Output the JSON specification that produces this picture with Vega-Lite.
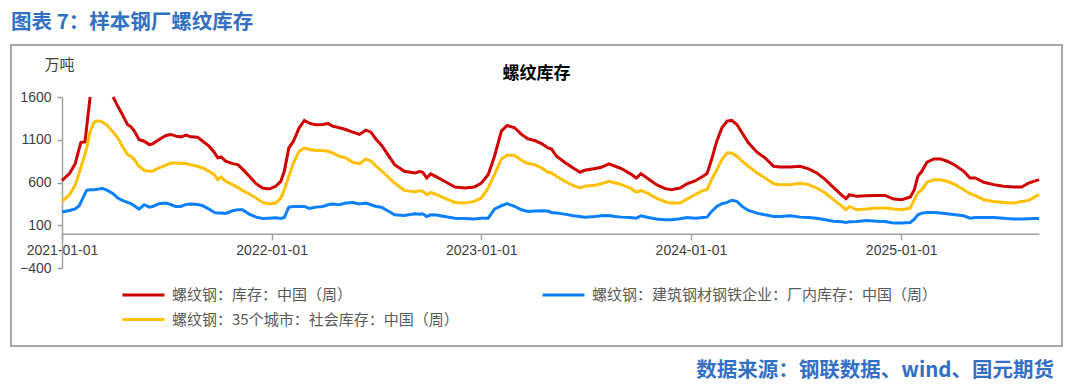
{
  "$schema": "https://vega.github.io/schema/vega-lite/v6.json",
  "background": "white",
  "padding": {"left": 10, "top": 12, "right": 10, "bottom": 5},
  "title": {"text": "图表 7：样本钢厂螺纹库存", "anchor": "start", "frame": "group", "font": "Noto Sans CJK SC", "fontSize": 20.5, "fontWeight": "bold", "color": "#3370C4", "offset": 11},
  "datasets": {
    "names": [
      {"s": "r", "name": "螺纹钢：库存：中国（周）"},
      {"s": "b", "name": "螺纹钢：建筑钢材钢铁企业：厂内库存：中国（周）"},
      {"s": "y", "name": "螺纹钢：35个城市：社会库存：中国（周）"}
    ],
    "inv": [
      {"d":"2021-01-01","r":622,"y":379,"b":254},
      {"d":"2021-01-14","r":705,"y":457,"b":273},
      {"d":"2021-01-24","r":820,"y":570,"b":292},
      {"d":"2021-01-31","r":1000,"y":712,"b":328},
      {"d":"2021-02-03","r":1070,"y":780,"b":370},
      {"d":"2021-02-10","r":1075,"y":930,"b":470},
      {"d":"2021-02-13","r":1250,"y":1005,"b":508},
      {"d":"2021-02-19","r":1600,"y":1201,"b":516},
      {"d":"2021-02-26","r":null,"y":1306,"b":516},
      {"d":"2021-03-04","r":null,"y":1322,"b":520},
      {"d":"2021-03-12","r":null,"y":1310,"b":532},
      {"d":"2021-03-21","r":null,"y":1267,"b":508},
      {"d":"2021-03-31","r":1600,"y":1189,"b":469},
      {"d":"2021-04-08","r":1494,"y":1122,"b":418},
      {"d":"2021-04-16","r":1396,"y":1025,"b":391},
      {"d":"2021-04-25","r":1279,"y":927,"b":367},
      {"d":"2021-05-01","r":1252,"y":907,"b":352},
      {"d":"2021-05-07","r":1201,"y":868,"b":328},
      {"d":"2021-05-15","r":1103,"y":790,"b":289},
      {"d":"2021-05-24","r":1083,"y":743,"b":340},
      {"d":"2021-06-02","r":1044,"y":731,"b":312},
      {"d":"2021-06-08","r":1052,"y":735,"b":320},
      {"d":"2021-06-19","r":1103,"y":770,"b":352},
      {"d":"2021-07-01","r":1150,"y":802,"b":359},
      {"d":"2021-07-10","r":1162,"y":829,"b":340},
      {"d":"2021-07-18","r":1142,"y":829,"b":320},
      {"d":"2021-07-27","r":1134,"y":825,"b":320},
      {"d":"2021-08-05","r":1154,"y":821,"b":344},
      {"d":"2021-08-13","r":1134,"y":806,"b":348},
      {"d":"2021-08-25","r":1130,"y":790,"b":344},
      {"d":"2021-09-03","r":1083,"y":770,"b":328},
      {"d":"2021-09-14","r":1025,"y":731,"b":289},
      {"d":"2021-09-23","r":954,"y":692,"b":250},
      {"d":"2021-09-29","r":888,"y":633,"b":242},
      {"d":"2021-10-05","r":899,"y":665,"b":242},
      {"d":"2021-10-13","r":849,"y":614,"b":238},
      {"d":"2021-10-25","r":821,"y":575,"b":269},
      {"d":"2021-11-03","r":809,"y":543,"b":281},
      {"d":"2021-11-11","r":759,"y":508,"b":281},
      {"d":"2021-11-23","r":672,"y":465,"b":230},
      {"d":"2021-12-05","r":586,"y":418,"b":195},
      {"d":"2021-12-16","r":536,"y":367,"b":179},
      {"d":"2021-12-28","r":524,"y":348,"b":183},
      {"d":"2022-01-08","r":555,"y":359,"b":187},
      {"d":"2022-01-17","r":614,"y":418,"b":179},
      {"d":"2022-01-23","r":731,"y":516,"b":191},
      {"d":"2022-01-31","r":1005,"y":672,"b":312},
      {"d":"2022-02-08","r":1083,"y":829,"b":320},
      {"d":"2022-02-18","r":1240,"y":966,"b":320},
      {"d":"2022-02-27","r":1326,"y":1005,"b":320},
      {"d":"2022-03-08","r":1291,"y":986,"b":297},
      {"d":"2022-03-19","r":1275,"y":974,"b":312},
      {"d":"2022-03-31","r":1279,"y":974,"b":320},
      {"d":"2022-04-09","r":1291,"y":966,"b":340},
      {"d":"2022-04-17","r":1259,"y":946,"b":348},
      {"d":"2022-04-29","r":1240,"y":907,"b":340},
      {"d":"2022-05-10","r":1220,"y":888,"b":359},
      {"d":"2022-05-22","r":1189,"y":837,"b":367},
      {"d":"2022-06-03","r":1162,"y":821,"b":348},
      {"d":"2022-06-14","r":1212,"y":876,"b":359},
      {"d":"2022-06-23","r":1189,"y":849,"b":340},
      {"d":"2022-07-02","r":1103,"y":790,"b":320},
      {"d":"2022-07-11","r":1040,"y":740,"b":310},
      {"d":"2022-07-25","r":900,"y":650,"b":258},
      {"d":"2022-08-03","r":809,"y":594,"b":222},
      {"d":"2022-08-20","r":731,"y":508,"b":215},
      {"d":"2022-09-07","r":712,"y":492,"b":234},
      {"d":"2022-09-16","r":727,"y":504,"b":230},
      {"d":"2022-09-21","r":720,"y":496,"b":234},
      {"d":"2022-09-28","r":653,"y":457,"b":203},
      {"d":"2022-10-05","r":700,"y":485,"b":222},
      {"d":"2022-10-15","r":665,"y":457,"b":219},
      {"d":"2022-10-29","r":614,"y":418,"b":203},
      {"d":"2022-11-16","r":547,"y":367,"b":183},
      {"d":"2022-12-03","r":536,"y":359,"b":179},
      {"d":"2022-12-20","r":547,"y":379,"b":172},
      {"d":"2023-01-01","r":594,"y":418,"b":183},
      {"d":"2023-01-13","r":692,"y":536,"b":183},
      {"d":"2023-01-24","r":907,"y":692,"b":289},
      {"d":"2023-02-05","r":1201,"y":876,"b":328},
      {"d":"2023-02-15","r":1267,"y":919,"b":352},
      {"d":"2023-02-28","r":1240,"y":915,"b":320},
      {"d":"2023-03-12","r":1162,"y":860,"b":281},
      {"d":"2023-03-23","r":1111,"y":821,"b":262},
      {"d":"2023-04-04","r":1091,"y":809,"b":266},
      {"d":"2023-04-16","r":1056,"y":770,"b":269},
      {"d":"2023-04-27","r":1005,"y":720,"b":266},
      {"d":"2023-05-03","r":993,"y":712,"b":250},
      {"d":"2023-05-12","r":907,"y":672,"b":242},
      {"d":"2023-05-26","r":837,"y":614,"b":230},
      {"d":"2023-06-10","r":770,"y":563,"b":211},
      {"d":"2023-06-22","r":720,"y":536,"b":203},
      {"d":"2023-06-30","r":743,"y":555,"b":195},
      {"d":"2023-07-18","r":763,"y":567,"b":203},
      {"d":"2023-07-29","r":778,"y":586,"b":211},
      {"d":"2023-08-11","r":817,"y":614,"b":215},
      {"d":"2023-08-22","r":790,"y":594,"b":203},
      {"d":"2023-09-02","r":763,"y":575,"b":195},
      {"d":"2023-09-17","r":704,"y":536,"b":191},
      {"d":"2023-09-28","r":653,"y":485,"b":183},
      {"d":"2023-10-06","r":704,"y":508,"b":211},
      {"d":"2023-10-19","r":641,"y":469,"b":191},
      {"d":"2023-11-02","r":575,"y":418,"b":172},
      {"d":"2023-11-17","r":528,"y":375,"b":164},
      {"d":"2023-11-28","r":516,"y":359,"b":164},
      {"d":"2023-12-13","r":536,"y":359,"b":176},
      {"d":"2023-12-25","r":583,"y":406,"b":191},
      {"d":"2024-01-08","r":618,"y":457,"b":183},
      {"d":"2024-01-22","r":672,"y":508,"b":191},
      {"d":"2024-01-29","r":704,"y":516,"b":195},
      {"d":"2024-02-06","r":868,"y":633,"b":262},
      {"d":"2024-02-15","r":1083,"y":751,"b":320},
      {"d":"2024-02-24","r":1240,"y":868,"b":352},
      {"d":"2024-03-04","r":1318,"y":946,"b":367},
      {"d":"2024-03-12","r":1326,"y":946,"b":391},
      {"d":"2024-03-21","r":1279,"y":907,"b":379},
      {"d":"2024-03-30","r":1181,"y":849,"b":320},
      {"d":"2024-04-10","r":1064,"y":790,"b":273},
      {"d":"2024-04-25","r":954,"y":712,"b":242},
      {"d":"2024-05-09","r":888,"y":653,"b":222},
      {"d":"2024-05-24","r":790,"y":586,"b":203},
      {"d":"2024-06-04","r":782,"y":575,"b":203},
      {"d":"2024-06-22","r":782,"y":575,"b":211},
      {"d":"2024-07-09","r":790,"y":590,"b":195},
      {"d":"2024-07-24","r":759,"y":575,"b":191},
      {"d":"2024-08-07","r":712,"y":536,"b":183},
      {"d":"2024-08-22","r":633,"y":477,"b":164},
      {"d":"2024-09-05","r":543,"y":399,"b":148},
      {"d":"2024-09-20","r":449,"y":320,"b":140},
      {"d":"2024-09-27","r":410,"y":281,"b":133},
      {"d":"2024-10-03","r":457,"y":320,"b":140},
      {"d":"2024-10-16","r":438,"y":281,"b":144},
      {"d":"2024-11-02","r":446,"y":289,"b":156},
      {"d":"2024-11-20","r":449,"y":301,"b":148},
      {"d":"2024-12-04","r":449,"y":301,"b":144},
      {"d":"2024-12-19","r":406,"y":289,"b":125},
      {"d":"2025-01-02","r":399,"y":281,"b":125},
      {"d":"2025-01-17","r":430,"y":301,"b":133},
      {"d":"2025-01-24","r":516,"y":399,"b":172},
      {"d":"2025-01-30","r":672,"y":477,"b":222},
      {"d":"2025-02-06","r":731,"y":516,"b":242},
      {"d":"2025-02-15","r":837,"y":602,"b":250},
      {"d":"2025-02-27","r":876,"y":633,"b":250},
      {"d":"2025-03-10","r":876,"y":633,"b":242},
      {"d":"2025-03-22","r":849,"y":614,"b":234},
      {"d":"2025-04-05","r":802,"y":575,"b":222},
      {"d":"2025-04-20","r":731,"y":516,"b":211},
      {"d":"2025-05-01","r":653,"y":469,"b":183},
      {"d":"2025-05-10","r":653,"y":446,"b":191},
      {"d":"2025-05-25","r":602,"y":399,"b":191},
      {"d":"2025-06-11","r":575,"y":379,"b":191},
      {"d":"2025-06-28","r":555,"y":367,"b":183},
      {"d":"2025-07-16","r":547,"y":359,"b":172},
      {"d":"2025-07-30","r":547,"y":379,"b":172},
      {"d":"2025-08-11","r":594,"y":391,"b":176},
      {"d":"2025-08-20","r":614,"y":426,"b":179},
      {"d":"2025-08-29","r":633,"y":457,"b":179}
    ]
  },
  "vconcat": [
    {
      "title": {"text": "数据来源：钢联数据、wind、国元期货", "orient": "bottom", "anchor": "end", "frame": "bounds", "font": "Noto Sans CJK SC", "fontSize": 20.5, "fontWeight": "bold", "color": "#3370C4", "offset": 14, "baseline": "top", "dx": -9},
      "vconcat": [
        {
          "width": 1051,
          "height": 301,
          "view": {"stroke": "#A6A6A6", "strokeWidth": 2},
          "title": {"text": "螺纹库存", "anchor": "middle", "frame": "group", "offset": -46, "baseline": "middle", "font": "Noto Sans CJK SC", "fontSize": 17, "fontWeight": "bold", "color": "#000000"},
          "data": {"name": "inv"},
          "transform": [
            {"fold": ["r", "b", "y"], "as": ["s", "v"]},
            {"lookup": "s", "from": {"data": {"name": "names"}, "key": "s", "fields": ["name"]}}
          ],
          "mark": {"type": "line", "strokeWidth": 3, "invalid": "break-paths-show-domains"},
          "encoding": {
            "x": {
              "field": "d", "type": "temporal",
              "scale": {"type": "utc", "domain": [{"year": 2021, "month": 1, "date": 1, "utc": true}, {"year": 2025, "month": 8, "date": 29, "utc": true}], "range": [51, 1028]},
              "axis": {
                "orient": "bottom", "offset": -112.2, "title": null, "grid": false,
                "values": [{"year": 2021, "month": 1, "date": 1, "utc": true}, {"year": 2022, "month": 1, "date": 1, "utc": true}, {"year": 2023, "month": 1, "date": 1, "utc": true}, {"year": 2024, "month": 1, "date": 1, "utc": true}, {"year": 2025, "month": 1, "date": 1, "utc": true}],
                "format": "%Y-%m-%d",
                "domainColor": "#A0A0A0", "domainWidth": 1.5, "tickColor": "#A0A0A0", "tickWidth": 1.5, "tickSize": 6,
                "labelPadding": 4, "labelFont": "Liberation Sans", "labelFontSize": 14, "labelColor": "#404040",
                "labelFlush": false, "labelOverlap": false, "labelBound": false
              }
            },
            "y": {
              "field": "v", "type": "quantitative",
              "scale": {"domain": [-400, 1600], "range": [223, 52], "nice": false, "zero": false},
              "axis": {
                "orient": "left", "offset": -51, "grid": false,
                "values": [-400, 100, 600, 1100, 1600], "format": "d",
                "title": "万吨", "titleAngle": 0, "titleAlign": "center", "titleBaseline": "middle", "titleX": -3, "titleY": 19,
                "titleFont": "Noto Sans CJK SC", "titleFontSize": 15, "titleFontWeight": "normal", "titleColor": "#404040",
                "domainColor": "#A0A0A0", "domainWidth": 1.5, "tickColor": "#A0A0A0", "tickWidth": 1.5, "tickSize": 5,
                "labelPadding": 6, "labelFont": "Liberation Sans", "labelFontSize": 14, "labelColor": "#404040",
                "labelOverlap": false, "labelBound": false, "labelFlush": false
              }
            },
            "color": {
              "field": "name", "type": "nominal",
              "scale": {"domain": ["螺纹钢：库存：中国（周）", "螺纹钢：35个城市：社会库存：中国（周）", "螺纹钢：建筑钢材钢铁企业：厂内库存：中国（周）"], "range": ["#D00000", "#FFC000", "#0A80FF"]},
              "legend": {
                "orient": "none", "legendX": 110, "legendY": 242, "columns": 2, "title": null, "padding": 0,
                "symbolType": "stroke", "symbolSize": 1764, "symbolStrokeWidth": 3, "clipHeight": 16,
                "rowPadding": 8.6, "columnPadding": 82,
                "labelFont": "Noto Sans CJK SC", "labelFontSize": 15, "labelColor": "#595959", "labelOffset": 6, "labelLimit": 500
              }
            }
          }
        }
      ]
    }
  ]
}
